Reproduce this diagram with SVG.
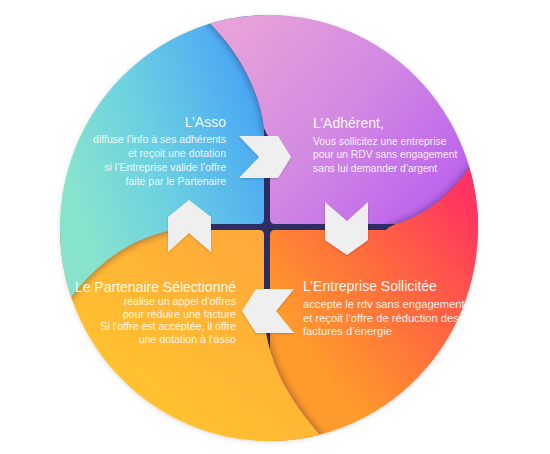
<svg xmlns="http://www.w3.org/2000/svg" width="550" height="454" viewBox="0 0 550 454">
<style>
.t{font-family:"Liberation Sans",Arial,sans-serif;fill:#ffffff}
.h{font-size:14px;fill-opacity:.95}
.b{fill-opacity:.9}
.r{text-anchor:end}
.arrow{fill:#efefef;filter:url(#ash)}
.sh{fill:#1d1640;opacity:.33;filter:url(#blur)}
</style>
<defs>
<linearGradient id="gTL" gradientUnits="userSpaceOnUse" x1="80" y1="210" x2="265" y2="150">
<stop offset="0" stop-color="#88e3cd"/><stop offset=".45" stop-color="#6cd0e2"/><stop offset="1" stop-color="#4ba9f3"/>
</linearGradient>
<linearGradient id="gTR" gradientUnits="userSpaceOnUse" x1="230" y1="30" x2="440" y2="210">
<stop offset="0" stop-color="#e8a2d9"/><stop offset=".5" stop-color="#d28ae2"/><stop offset="1" stop-color="#bb62ee"/>
</linearGradient>
<linearGradient id="gBR" gradientUnits="userSpaceOnUse" x1="290" y1="330" x2="460" y2="190">
<stop offset="0" stop-color="#ff9a2c"/><stop offset=".5" stop-color="#ff6a3e"/><stop offset="1" stop-color="#ff3460"/>
</linearGradient>
<linearGradient id="gBL" gradientUnits="userSpaceOnUse" x1="250" y1="240" x2="120" y2="400">
<stop offset="0" stop-color="#ffa93a"/><stop offset="1" stop-color="#ffc42f"/>
</linearGradient>
<clipPath id="disc"><ellipse cx="269" cy="228" rx="209" ry="213"/></clipPath>
<clipPath id="cTL"><rect x="0" y="0" width="264" height="224"/></clipPath>
<clipPath id="cTR"><rect x="270" y="0" width="280" height="224"/></clipPath>
<clipPath id="cBR"><rect x="270" y="230" width="280" height="224"/></clipPath>
<clipPath id="cBL"><rect x="0" y="230" width="264" height="224"/></clipPath>
<filter id="blur" x="-20%" y="-20%" width="140%" height="140%"><feGaussianBlur stdDeviation="3"/></filter>
<filter id="ash" x="-20%" y="-20%" width="140%" height="140%"><feDropShadow dx="0" dy="1" stdDeviation="1" flood-color="#000" flood-opacity=".2"/></filter>
<filter id="dsh" x="-10%" y="-10%" width="120%" height="120%"><feDropShadow dx="0" dy="1" stdDeviation="2.5" flood-color="#666" flood-opacity=".3"/></filter>
<path id="tailP" d="M190,6 C232,38 259,85 264,128 Q266,134 270,138 L282,138 L282,-5 L190,-5 Z"/>
<path id="tailR" d="M500,128 L488,140 C462,183 436,212 396,224 Q390,226 386,230 L386,238 L500,238 Z"/>
<path id="tailY" d="M264,312 C266,365 293,410 342,458 L255,458 L255,312 Z"/>
<path id="tailC" d="M46,334 C82,274 120,241 172,230 Q182,228 190,224 L190,214 L40,214 Z"/>
</defs>

<ellipse cx="269" cy="228" rx="208.5" ry="212.5" fill="#ffffff" filter="url(#dsh)"/>

<g clip-path="url(#disc)">
<rect x="150" y="110" width="250" height="240" fill="#2e2d63"/>
<g id="node-asso">
<path d="M40,0 H264 V219 Q264,224 259,224 H40 Z" fill="url(#gTL)"/>
</g>
<g id="node-adherent">
<path d="M270,0 H510 V224 H275 Q270,224 270,219 Z" fill="url(#gTR)"/>
</g>
<g id="node-entreprise">
<path d="M270,235 Q270,230 275,230 H510 V460 H270 Z" fill="url(#gBR)"/>
</g>
<g id="node-partenaire">
<path d="M40,230 H259 Q264,230 264,235 V460 H40 Z" fill="url(#gBL)"/>
</g>

<g id="blade-overlaps">
<g clip-path="url(#cTL)"><use href="#tailP" class="sh" transform="translate(-2,1)"/></g>
<use href="#tailP" fill="url(#gTR)"/>
<g clip-path="url(#cTR)"><use href="#tailR" class="sh" transform="translate(-1,-2)"/></g>
<use href="#tailR" fill="url(#gBR)"/>
<g clip-path="url(#cBR)"><use href="#tailY" class="sh" transform="translate(2,-1)"/></g>
<use href="#tailY" fill="url(#gBL)"/>
<g clip-path="url(#cBL)"><use href="#tailC" class="sh" transform="translate(1,2)"/></g>
<use href="#tailC" fill="url(#gTL)"/>
</g>
</g>

<g id="labels">
<g id="label-asso" class="t r">
<text class="h" x="226" y="127">L’Asso</text>
<text class="b" font-size="10.5" x="226" y="143">diffuse l’info à ses adhérents</text>
<text class="b" font-size="10.5" x="226" y="157">et reçoit une dotation</text>
<text class="b" font-size="10.5" x="226" y="171">si l’Entreprise valide l’offre</text>
<text class="b" font-size="10.5" x="226" y="185">faite par le Partenaire</text>
</g>
<g id="label-adherent" class="t">
<text class="h" x="313" y="128">L’Adhérent,</text>
<text class="b" font-size="10.3" x="313" y="145">Vous sollicitez une entreprise</text>
<text class="b" font-size="10.3" x="313" y="158">pour un RDV sans engagement</text>
<text class="b" font-size="10.3" x="313" y="172">sans lui demander d’argent</text>
</g>
<g id="label-entreprise" class="t">
<text class="h" x="303" y="291">L’Entreprise Sollicitée</text>
<text class="b" font-size="11.2" x="303" y="308">accepte le rdv sans engagement</text>
<text class="b" font-size="11.2" x="303" y="322">et reçoit l’offre de réduction des</text>
<text class="b" font-size="11.2" x="303" y="335">factures d’énergie</text>
</g>
<g id="label-partenaire" class="t r">
<text class="h" x="236" y="292">Le Partenaire Sélectionné</text>
<text class="b" font-size="10.6" x="236" y="305">réalise un appel d’offres</text>
<text class="b" font-size="10.6" x="236" y="318">pour réduire une facture</text>
<text class="b" font-size="10.6" x="236" y="330">Si l’offre est acceptée, il offre</text>
<text class="b" font-size="10.6" x="236" y="343">une dotation à l’asso</text>
</g>
</g>

<g id="connectors">
<polygon class="arrow" points="239,136 278,136 291,157 278,178 239,178 259,157"/>
<polygon class="arrow" points="325,202 347,221 368,202 368,240 347,255 325,240"/>
<polygon class="arrow" points="294,289 256,289 242,311 256,333 294,333 276,311"/>
<polygon class="arrow" points="168,217 189,200 211,217 211,252 189,233 168,252"/>
</g>
</svg>
